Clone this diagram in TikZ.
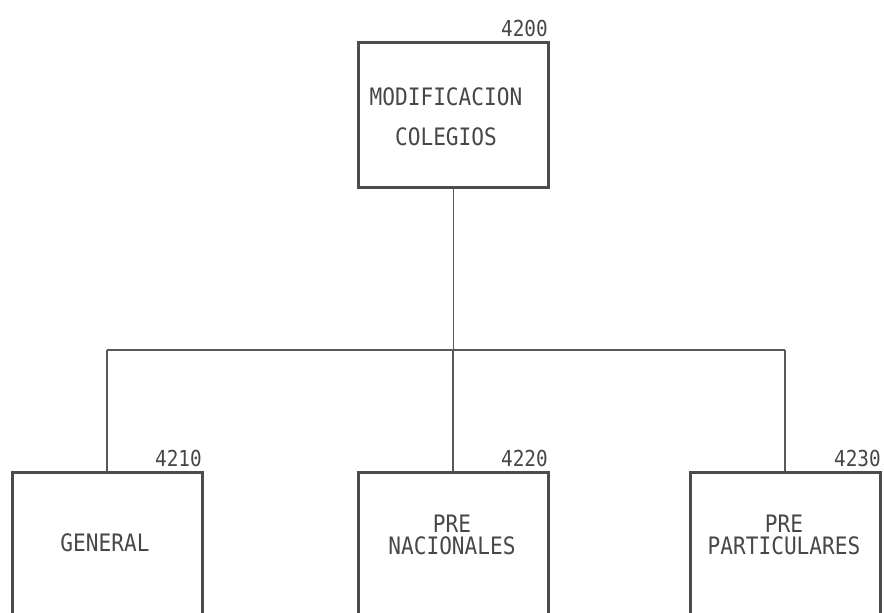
\documentclass[tikz,border=0pt]{standalone}
\usepackage{fontspec}
\newfontfamily\plotfont[FakeStretch=0.88]{DejaVu Sans Mono}
\begin{document}
\begin{tikzpicture}[x=1pt,y=-1pt,
  box/.style={draw=black!70, line width=3pt, rectangle, minimum width=190pt, inner sep=0pt},
  txt/.style={font=\plotfont\fontsize{24}{22}\selectfont, text=black!72, align=center, inner sep=0pt},
  num/.style={font=\plotfont\fontsize{22}{20}\selectfont, text=black!72, inner sep=0pt, anchor=east},
  conn/.style={draw=black!65, line width=1.1pt}]
\clip (0,0) rectangle (884,613);
\fill[white] (0,0) rectangle (884,613);
% boxes
\node[box, minimum height=145pt] (top) at (453.5,114.5) {};
\node[box, minimum height=228pt] (b1) at (107,586) {};
\node[box, minimum height=228pt] (b2) at (453,586) {};
\node[box, minimum height=228pt] (b3) at (785,586) {};
% numbers
\node[num] (n0) at (548,28) {4200};
\node[num] (n1) at (202,458) {4210};
\node[num] (n2) at (548,458) {4220};
\node[num] (n3) at (881,458) {4230};
% texts
\node[txt] (t0a) at (446,97) {MODIFICACION};
\node[txt] (t0b) at (446,137) {COLEGIOS};
\node[txt] (t1) at (105,543) {GENERAL};
\node[txt] (t2) at (452,535) {PRE\\NACIONALES};
\node[txt] (t3) at (784,535) {PRE\\PARTICULARES};
% connectors
\coordinate (busL) at (107,350);
\coordinate (busR) at (785,350);
\draw[conn] (top.south) -- (top.south |- busL);
\draw[conn] (busL) -- (busR);
\draw[conn] (busL) -- (b1.north);
\draw[conn] (b2.north |- busL) -- (b2.north);
\draw[conn] (busR) -- (b3.north);
\end{tikzpicture}
\end{document}
